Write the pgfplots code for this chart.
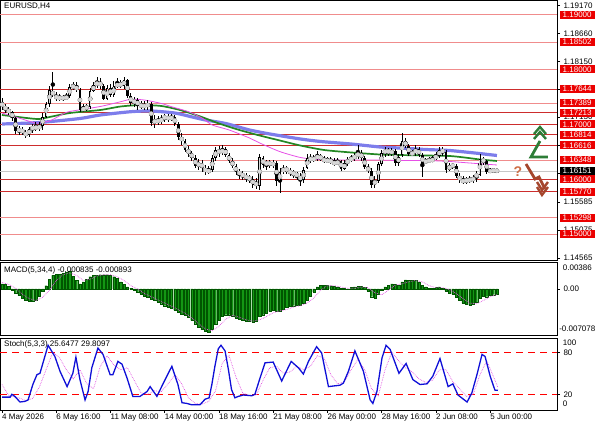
\documentclass[border=0pt]{standalone}
\usepackage{pgfplots}
\pgfplotsset{compat=1.18}
\usepackage{pgfplotstable}
\usepackage{fontspec}
\setmainfont{Liberation Sans}
\newcommand\mt{\fontsize{8}{9.6}\selectfont}
\definecolor{lvlL}{RGB}{240,140,140}
\definecolor{lvlD}{RGB}{205,45,45}
\definecolor{boxred}{RGB}{235,0,0}
\definecolor{maB}{RGB}{125,125,235}
\definecolor{maG}{RGB}{35,135,35}
\definecolor{maM}{RGB}{230,80,230}
\definecolor{hgreen}{RGB}{20,150,20}
\definecolor{hdark}{RGB}{0,85,0}
\definecolor{sigpink}{RGB}{225,80,225}
\definecolor{stblue}{RGB}{15,15,215}
\definecolor{arG}{RGB}{45,125,55}
\definecolor{arB}{RGB}{165,70,45}
\definecolor{qm}{RGB}{205,110,70}
\definecolor{bullfill}{RGB}{215,215,215}

\pgfplotstableread{
i o h l c
0 1.17390 1.17481 1.17262 1.17335
1 1.17335 1.17371 1.17207 1.17262
2 1.17262 1.17317 1.17171 1.17226
3 1.17226 1.17244 1.17062 1.17116
4 1.17116 1.17134 1.16825 1.16879
5 1.16879 1.16970 1.16806 1.16916
6 1.16916 1.16952 1.16806 1.16843
7 1.16843 1.16898 1.16752 1.16806
8 1.16806 1.16952 1.16770 1.16916
9 1.16916 1.17007 1.16843 1.16952
10 1.16952 1.17043 1.16879 1.16934
11 1.16934 1.17043 1.16879 1.16970
12 1.16970 1.17207 1.16898 1.17134
13 1.17134 1.17408 1.17116 1.17371
14 1.17371 1.17699 1.17317 1.17627
15 1.17608 1.17955 1.17499 1.17535
16 1.17535 1.17590 1.17426 1.17462
17 1.17462 1.17554 1.17426 1.17499
18 1.17499 1.17535 1.17426 1.17462
19 1.17462 1.17572 1.17444 1.17517
20 1.17517 1.17736 1.17481 1.17681
21 1.17681 1.17772 1.17627 1.17699
22 1.17699 1.17772 1.17590 1.17627
23 1.17627 1.17663 1.17226 1.17262
24 1.17262 1.17371 1.17226 1.17298
25 1.17298 1.17371 1.17244 1.17317
26 1.17317 1.17663 1.17280 1.17608
27 1.17608 1.17772 1.17590 1.17718
28 1.17718 1.17863 1.17663 1.17772
29 1.17772 1.17845 1.17645 1.17699
30 1.17699 1.17736 1.17444 1.17462
31 1.17462 1.17718 1.17444 1.17663
32 1.17663 1.17736 1.17499 1.17535
33 1.17535 1.17791 1.17499 1.17699
34 1.17699 1.17845 1.17663 1.17736
35 1.17736 1.17809 1.17663 1.17718
36 1.17699 1.17863 1.17645 1.17809
37 1.17809 1.17827 1.17481 1.17517
38 1.17517 1.17572 1.17335 1.17390
39 1.17390 1.17499 1.17317 1.17444
40 1.17444 1.17481 1.17262 1.17335
41 1.17335 1.17426 1.17280 1.17353
42 1.17353 1.17426 1.17262 1.17317
43 1.17317 1.17444 1.17262 1.17390
44 1.17371 1.17408 1.16970 1.17025
45 1.17025 1.17171 1.16934 1.17080
46 1.17080 1.17153 1.16989 1.17043
47 1.17043 1.17171 1.17007 1.17116
48 1.17116 1.17189 1.17043 1.17134
49 1.17134 1.17189 1.17043 1.17098
50 1.17098 1.17189 1.17062 1.17134
51 1.17134 1.17171 1.16970 1.17007
52 1.17007 1.17043 1.16715 1.16770
53 1.16770 1.16843 1.16624 1.16697
54 1.16697 1.16734 1.16497 1.16533
55 1.16533 1.16606 1.16406 1.16478
56 1.16478 1.16515 1.16333 1.16387
57 1.16387 1.16442 1.16205 1.16242
58 1.16242 1.16369 1.16169 1.16296
59 1.16296 1.16351 1.16132 1.16205
60 1.16205 1.16260 1.16078 1.16132
61 1.16132 1.16242 1.16096 1.16169
62 1.16169 1.16442 1.16132 1.16387
63 1.16387 1.16588 1.16333 1.16533
64 1.16533 1.16606 1.16406 1.16478
65 1.16478 1.16624 1.16442 1.16551
66 1.16551 1.16588 1.16406 1.16442
67 1.16442 1.16478 1.16296 1.16333
68 1.16333 1.16387 1.16205 1.16242
69 1.16242 1.16278 1.16078 1.16132
70 1.16132 1.16187 1.16005 1.16096
71 1.16096 1.16150 1.15987 1.16059
72 1.16059 1.16114 1.15950 1.16023
73 1.16023 1.16078 1.15932 1.16005
74 1.16005 1.16059 1.15841 1.15895
75 1.15895 1.16023 1.15823 1.15932
76 1.15877 1.16460 1.15804 1.16406
77 1.16387 1.16424 1.16205 1.16260
78 1.16260 1.16351 1.16169 1.16314
79 1.16314 1.16351 1.16205 1.16260
80 1.16260 1.16351 1.16205 1.16296
81 1.16296 1.16333 1.15877 1.15968
82 1.15968 1.16205 1.15750 1.16132
83 1.16132 1.16260 1.16096 1.16205
84 1.16205 1.16242 1.16096 1.16150
85 1.16150 1.16205 1.16059 1.16114
86 1.16114 1.16169 1.16023 1.16096
87 1.16096 1.16132 1.15987 1.16059
88 1.16059 1.16114 1.15877 1.15987
89 1.15987 1.16223 1.15932 1.16169
90 1.16205 1.16460 1.16187 1.16387
91 1.16387 1.16460 1.16296 1.16351
92 1.16351 1.16442 1.16314 1.16387
93 1.16387 1.16515 1.16333 1.16424
94 1.16424 1.16460 1.16333 1.16369
95 1.16369 1.16424 1.16296 1.16333
96 1.16333 1.16406 1.16296 1.16351
97 1.16351 1.16406 1.16278 1.16314
98 1.16314 1.16387 1.16242 1.16278
99 1.16278 1.16387 1.16260 1.16333
100 1.16333 1.16351 1.16150 1.16187
101 1.16187 1.16351 1.16169 1.16296
102 1.16296 1.16406 1.16242 1.16351
103 1.16351 1.16442 1.16314 1.16387
104 1.16387 1.16478 1.16333 1.16424
105 1.16424 1.16624 1.16369 1.16478
106 1.16478 1.16533 1.16333 1.16387
107 1.16387 1.16424 1.16187 1.16223
108 1.16223 1.16278 1.16114 1.16150
109 1.16150 1.16205 1.15841 1.15895
110 1.15895 1.16059 1.15841 1.15987
111 1.15968 1.16314 1.15932 1.16278
112 1.16278 1.16533 1.16242 1.16478
113 1.16478 1.16588 1.16406 1.16533
114 1.16533 1.16570 1.16424 1.16478
115 1.16478 1.16570 1.16424 1.16515
116 1.16515 1.16551 1.16242 1.16296
117 1.16296 1.16460 1.16242 1.16406
118 1.16442 1.16843 1.16406 1.16697
119 1.16697 1.16752 1.16570 1.16606
120 1.16606 1.16642 1.16424 1.16460
121 1.16460 1.16533 1.16424 1.16478
122 1.16478 1.16624 1.16424 1.16551
123 1.16551 1.16588 1.16406 1.16442
124 1.16442 1.16478 1.16041 1.16278
125 1.16296 1.16387 1.16278 1.16351
126 1.16351 1.16406 1.16296 1.16333
127 1.16333 1.16424 1.16314 1.16369
128 1.16369 1.16497 1.16351 1.16442
129 1.16424 1.16588 1.16387 1.16533
130 1.16533 1.16588 1.16424 1.16497
131 1.16497 1.16533 1.16114 1.16169
132 1.16169 1.16296 1.16150 1.16260
133 1.16260 1.16296 1.16187 1.16242
134 1.16242 1.16278 1.16023 1.16059
135 1.16059 1.16114 1.15932 1.15987
136 1.15987 1.16059 1.15914 1.15950
137 1.15950 1.16041 1.15914 1.16005
138 1.16005 1.16059 1.15932 1.15968
139 1.15968 1.16078 1.15932 1.16041
140 1.16041 1.16150 1.15950 1.16096
141 1.16078 1.16460 1.16059 1.16369
142 1.16369 1.16406 1.16260 1.16314
143 1.16333 1.16351 1.16096 1.16132
144 1.16132 1.16205 1.16114 1.16169
145 1.16169 1.16187 1.16132 1.16150
146 1.16160 1.16180 1.16130 1.16151
}\candles

\begin{document}
\begin{tikzpicture}
\path[use as bounding box] (0,0) rectangle (596pt,425pt);
\pgfplotsset{mt/.style={scale only axis, width=557pt, xmin=-0.59, xmax=163.72,
  axis line style={line width=0.7pt}, clip mode=individual,
  /pgf/number format/assume math mode=true, tick label style={font=\mt},
  tick align=outside, major tick length=3pt, ytick pos=right, yticklabel pos=right,
  scaled y ticks=false, tick style={black, line width=0.5pt}}}
\tikzset{lbl/.style={fill=boxred, text=white, font=\mt, inner sep=0pt, minimum width=35pt, minimum height=8pt, anchor=west},
  plain/.style={font=\mt, inner sep=0pt, anchor=west}}

% ---------------- main price panel ----------------
\begin{axis}[mt, at={(0pt,165pt)}, anchor=south west, height=260pt,
  ymin=1.145286, ymax=1.192666, xtick=\empty,
  ytick={1.14565,1.15075,1.15585,1.16110,1.16620,1.17130,1.17640,1.18150,1.18660,1.19170},
  yticklabels={1.14565,1.15075,1.15585,,,1.17130,,1.18150,1.18660,1.19170}]
% level lines
\addplot[lvlL, line width=0.8pt] coordinates {(-0.59,1.19000) (163.72,1.19000)};
\addplot[lvlL, line width=0.8pt] coordinates {(-0.59,1.18502) (163.72,1.18502)};
\addplot[lvlL, line width=0.8pt] coordinates {(-0.59,1.18000) (163.72,1.18000)};
\addplot[lvlD, line width=0.8pt] coordinates {(-0.59,1.17644) (163.72,1.17644)};
\addplot[lvlL, line width=0.8pt] coordinates {(-0.59,1.17389) (163.72,1.17389)};
\addplot[lvlD, line width=0.8pt] coordinates {(-0.59,1.17213) (163.72,1.17213)};
\addplot[lvlD, line width=0.8pt] coordinates {(-0.59,1.17000) (163.72,1.17000)};
\addplot[lvlD, line width=0.8pt] coordinates {(-0.59,1.16814) (163.72,1.16814)};
\addplot[lvlD, line width=0.8pt] coordinates {(-0.59,1.16616) (163.72,1.16616)};
\addplot[lvlL, line width=0.8pt] coordinates {(-0.59,1.16348) (163.72,1.16348)};
\addplot[black!22, line width=0.8pt] coordinates {(-0.59,1.16151) (163.72,1.16151)};
\addplot[lvlD, line width=0.8pt] coordinates {(-0.59,1.16000) (163.72,1.16000)};
\addplot[lvlD, line width=0.8pt] coordinates {(-0.59,1.15770) (163.72,1.15770)};
\addplot[lvlL, line width=0.8pt] coordinates {(-0.59,1.15298) (163.72,1.15298)};
\addplot[lvlL, line width=0.8pt] coordinates {(-0.59,1.15000) (163.72,1.15000)};
% moving averages
\addplot[maB, line width=3.2pt, smooth, tension=0.4] coordinates {(0,1.17007) (11,1.17034) (23,1.17107) (29,1.17171) (38,1.17231) (44,1.17244) (51,1.17207) (55.5,1.17144) (60,1.17080) (66,1.17016) (73,1.16898) (79,1.16825) (88,1.16734) (94,1.16688) (103,1.16642) (111.5,1.16588) (117,1.16570) (125,1.16542) (132,1.16524) (139.5,1.16478) (146,1.16433)};
\addplot[maG, line width=1.7pt, smooth, tension=0.4] coordinates {(0,1.17171) (8,1.17111) (11,1.17098) (14,1.17134) (20,1.17207) (29,1.17262) (35,1.17326) (41,1.17353) (47,1.17335) (52.5,1.17262) (58.5,1.17144) (64,1.17016) (70,1.16898) (76,1.16797) (82,1.16706) (88,1.16615) (95,1.16533) (103,1.16488) (111.5,1.16451) (117,1.16442) (125,1.16433) (132,1.16424) (136.5,1.16396) (141,1.16360) (146,1.16333)};
\addplot[maM, line width=0.8pt, smooth, tension=0.4] coordinates {(0,1.17207) (5,1.17116) (10,1.17025) (14,1.17062) (18,1.17189) (20,1.17235) (29,1.17326) (35,1.17413) (38,1.17457) (42,1.17444) (47,1.17381) (50,1.17322) (55,1.17231) (59,1.17116) (62,1.16989) (67,1.16898) (73,1.16752) (76,1.16661) (82,1.16503) (88,1.16397) (93,1.16360) (100,1.16351) (110,1.16351) (117,1.16342) (125,1.16342) (132,1.16324) (138,1.16296) (146,1.16260)};
% candles: wicks, bodies, hollow bull bodies
\addplot[black, only marks, mark=none, error bars/.cd, y dir=both, y explicit, error mark=none,
  error bar style={line width=0.8pt, black}]
  table[x=i, y expr={(\thisrow{h}+\thisrow{l})/2}, y error expr={(\thisrow{h}-\thisrow{l})/2}] {\candles};
\addplot[black, only marks, mark=none, error bars/.cd, y dir=both, y explicit, error mark=none,
  error bar style={line width=2.7pt, black}]
  table[x=i, y expr={(\thisrow{o}+\thisrow{c})/2}, y error expr={max(abs(\thisrow{o}-\thisrow{c})/2,0.00005)}] {\candles};
\addplot[bullfill, only marks, mark=none, error bars/.cd, y dir=both, y explicit, error mark=none,
  error bar style={line width=1.0pt, bullfill}]
  table[x=i, y expr={(\thisrow{o}+\thisrow{c})/2}, y error expr={max((\thisrow{c}-\thisrow{o})/2-0.00012,0)}] {\candles};
% forecast arrows
\draw[arG, line width=2.8pt, line join=miter] (axis cs:161.06,1.16406) -- (axis cs:156.05,1.16406) -- (axis cs:158.70,1.16697);
\draw[arG, line width=2.4pt] (axis cs:156.93,1.16734) -- (axis cs:158.70,1.16861) -- (axis cs:160.47,1.16734);
\draw[arG, line width=2.4pt] (axis cs:156.93,1.16825) -- (axis cs:158.70,1.16952) -- (axis cs:160.47,1.16825);
\draw[arB, line width=2.8pt, line join=miter] (axis cs:154.57,1.16278) -- (axis cs:157.23,1.16005) -- (axis cs:158.41,1.16041) -- (axis cs:160.18,1.15823);
\draw[arB, line width=2.4pt] (axis cs:157.82,1.15950) -- (axis cs:159.29,1.15804) -- (axis cs:161.06,1.15950);
\draw[arB, line width=2.4pt] (axis cs:157.82,1.15859) -- (axis cs:159.29,1.15713) -- (axis cs:161.06,1.15859);
\node[text=qm, font=\fontsize{14}{14}\selectfont\bfseries, inner sep=0pt] at (axis cs:152.2,1.16132) {?};
\node[anchor=north west, font=\mt, inner sep=0pt] at ([xshift=4pt,yshift=-3pt]rel axis cs:0,1) {EURUSD,H4};
% label anchors
\coordinate (b1) at (axis cs:164.45,1.19000);
\coordinate (b2) at (axis cs:164.45,1.18502);
\coordinate (b3) at (axis cs:164.45,1.18000);
\coordinate (b4) at (axis cs:164.45,1.17644);
\coordinate (b5) at (axis cs:164.45,1.17389);
\coordinate (b6) at (axis cs:164.45,1.17213);
\coordinate (b7) at (axis cs:164.45,1.17000);
\coordinate (b8) at (axis cs:164.45,1.16814);
\coordinate (b9) at (axis cs:164.45,1.16616);
\coordinate (b10) at (axis cs:164.45,1.16348);
\coordinate (bc) at (axis cs:164.45,1.16151);
\coordinate (b11) at (axis cs:164.45,1.16000);
\coordinate (b12) at (axis cs:164.45,1.15770);
\coordinate (b13) at (axis cs:164.45,1.15298);
\coordinate (b14) at (axis cs:164.45,1.15000);
\end{axis}
\node[lbl] at (b1) {1.19000};
\node[lbl] at (b2) {1.18502};
\node[lbl] at (b3) {1.18000};
\node[lbl] at (b4) {1.17644};
\node[lbl] at (b5) {1.17389};
\node[lbl] at (b6) {1.17213};
\node[lbl] at (b7) {1.17000};
\node[lbl] at (b8) {1.16814};
\node[lbl] at (b9) {1.16616};
\node[lbl] at (b10) {1.16348};
\node[lbl, fill=black] at (bc) {1.16151};
\node[lbl] at (b11) {1.16000};
\node[lbl] at (b12) {1.15770};
\node[lbl] at (b13) {1.15298};
\node[lbl] at (b14) {1.15000};

% ---------------- MACD panel ----------------
\begin{axis}[mt, at={(0pt,90pt)}, anchor=south west, height=72.5pt,
  ymin=-0.00715, ymax=0.0041, xtick=\empty, ytick={0}, yticklabels={0.00}]
\addplot[ybar, bar width=2.3pt, fill=hgreen, draw=hdark, line width=0.3pt] coordinates {
(0,0.0008) (1,0.0007) (2,0.0004) (3,-0.0002) (4,-0.0006) (5,-0.0010) (6,-0.0015) (7,-0.0018) (8,-0.0019) (9,-0.0019)
(10,-0.0017) (11,-0.0011) (12,-0.0004) (13,0.0005) (14,0.0015) (15,0.0021) (16,0.0023) (17,0.0023) (18,0.0024) (19,0.0026)
(20,0.0028) (21,0.0020) (22,0.0013) (23,0.0008) (24,0.0011) (25,0.0015) (26,0.0019) (27,0.0021) (28,0.0021) (29,0.0022)
(30,0.0022) (31,0.0022) (32,0.0021) (33,0.0019) (34,0.0016) (35,0.0011) (36,0.0007) (37,0.0003) (38,0.0001) (39,-0.0002)
(40,-0.0005) (41,-0.0008) (42,-0.0011) (43,-0.0013) (44,-0.0016) (45,-0.0018) (46,-0.0020) (47,-0.0023) (48,-0.0026) (49,-0.0028)
(50,-0.0030) (51,-0.0033) (52,-0.0036) (53,-0.0039) (54,-0.0041) (55,-0.0044) (56,-0.0049) (57,-0.0054) (58,-0.0059) (59,-0.0063)
(60,-0.0066) (61,-0.0067) (62,-0.0062) (63,-0.0055) (64,-0.0048) (65,-0.0043) (66,-0.0040) (67,-0.0040) (68,-0.0042) (69,-0.0045)
(70,-0.0047) (71,-0.0049) (72,-0.0050) (73,-0.0050) (74,-0.0051) (75,-0.0050) (76,-0.0043) (77,-0.0040) (78,-0.0038) (79,-0.0035)
(80,-0.0033) (81,-0.0035) (82,-0.0034) (83,-0.0031) (84,-0.0029) (85,-0.0027) (86,-0.0026) (87,-0.0025) (88,-0.0025) (89,-0.0022)
(90,-0.0017) (91,-0.0011) (92,-0.0005) (93,0.0003) (94,0.0006) (95,0.0006) (96,0.0006) (97,0.0005) (98,0.0004) (99,0.0003)
(100,0.0001) (101,0.0001) (102,-0.0001) (103,0.0002) (104,0.0003) (105,0.0004) (106,0.0004) (107,0.0002) (108,-0.0003) (109,-0.0012)
(110,-0.0014) (111,-0.0008) (112,-0.0002) (113,0.0003) (114,0.0006) (115,0.0008) (116,0.0007) (117,0.0006) (118,0.0011) (119,0.0014)
(120,0.0013) (121,0.0013) (122,0.0013) (123,0.0011) (124,0.0006) (125,0.0003) (126,0.0001) (127,0.0001) (128,0.0002) (129,0.0003)
(130,0.0001) (131,-0.0003) (132,-0.0006) (133,-0.0008) (134,-0.0013) (135,-0.0018) (136,-0.0022) (137,-0.0024) (138,-0.0025) (139,-0.0023)
(140,-0.0021) (141,-0.0014) (142,-0.0011) (143,-0.0012) (144,-0.0010) (145,-0.0009) (146,-0.000835)};
\addplot[sigpink, line width=0.7pt, densely dotted] coordinates {
(0,0.0010) (2,0.0007) (4,0.0001) (6,-0.0008) (8,-0.0015) (10,-0.0018) (12,-0.0013) (14,-0.0002) (16,0.0013) (18,0.0022)
(20,0.0025) (22,0.0021) (24,0.0013) (26,0.0015) (28,0.0020) (30,0.0022) (32,0.0022) (34,0.0019) (36,0.0013) (38,0.0005)
(40,0.0000) (42,-0.0007) (44,-0.0012) (46,-0.0017) (48,-0.0022) (50,-0.0027) (52,-0.0032) (54,-0.0038) (56,-0.0045) (58,-0.0054)
(60,-0.0062) (62,-0.0065) (64,-0.0058) (66,-0.0047) (68,-0.0041) (70,-0.0044) (72,-0.0048) (74,-0.0050) (76,-0.0048) (78,-0.0043)
(80,-0.0037) (82,-0.0034) (84,-0.0032) (86,-0.0028) (88,-0.0026) (90,-0.0022) (92,-0.0014) (94,-0.0002) (96,0.0005) (98,0.0005)
(100,0.0003) (102,0.0001) (104,0.0001) (106,0.0003) (108,0.0002) (110,-0.0006) (112,-0.0009) (114,-0.0002) (116,0.0006) (118,0.0008)
(120,0.0011) (122,0.0013) (124,0.0011) (126,0.0005) (128,0.0002) (130,0.0002) (132,-0.0001) (134,-0.0007) (136,-0.0015) (138,-0.0022)
(140,-0.0023) (142,-0.0018) (144,-0.0012) (146,-0.000893)};
\node[anchor=north west, font=\mt, inner sep=0pt] at ([xshift=4pt,yshift=-4pt]rel axis cs:0,1) {MACD(5,34,4) -0.000835 -0.000893};
\coordinate (mpos) at (axis cs:165.4,0.00325);
\coordinate (mneg) at (axis cs:165.4,-0.00622);
\end{axis}
\node[plain] at (mpos) {0.00386};
\node[font=\mt, inner sep=0pt, anchor=east] at (mneg -| 595.5pt,0) {-0.007078};

% ---------------- Stochastic panel ----------------
\begin{axis}[mt, at={(0pt,15pt)}, anchor=south west, height=72pt,
  ymin=-2.4, ymax=100.4, ytick={20,80}, xtick pos=bottom,
  xtick={0,16,...,144},
  xticklabels={4 May 2026, 6 May 16:00, 11 May 08:00, 14 May 00:00, 18 May 16:00, 21 May 08:00, 26 May 00:00, 28 May 16:00, 2 Jun 08:00, 5 Jun 00:00},
  xticklabel style={anchor=north west, inner xsep=0pt, inner ysep=1pt}]
\addplot[red, line width=0.8pt, dash pattern=on 7pt off 5pt] coordinates {(-0.59,80) (163.72,80)};
\addplot[red, line width=0.8pt, dash pattern=on 7pt off 5pt] coordinates {(-0.59,20) (163.72,20)};
\addplot[sigpink, line width=0.7pt, densely dotted] coordinates {
(0,34) (2,18) (5,15) (7,11) (9,14) (11,30) (13,55) (15,80) (17,72) (19,55) (21,42) (23,55) (25,35) (27,28) (29,60) (31,75)
(33,62) (35,55) (37,58) (39,40) (41,22) (43,20) (45,25) (47,24) (49,35) (51,48) (53,35) (55,15) (57,7) (59,6) (61,10) (63,25)
(65,65) (67,75) (69,45) (71,22) (73,18) (75,19) (77,40) (79,58) (81,60) (83,50) (85,52) (87,60) (89,55) (91,60) (93,75) (95,72)
(97,48) (99,35) (101,38) (103,55) (105,70) (107,55) (109,28) (111,18) (113,55) (115,80) (117,68) (119,58) (121,52) (123,42)
(125,37) (127,40) (129,55) (131,55) (133,38) (135,28) (137,17) (139,20) (141,48) (143,68) (145,45) (146.3,29.81)};
\addplot[stblue, line width=1.3pt] coordinates {
(0,16) (2.4,16) (2.9,20) (3.8,17) (5.3,9) (6.8,10) (7.7,12) (9.1,34) (10.3,48) (11.2,50) (13.6,90) (15.6,74) (17.1,53)
(19.2,31) (20.9,50) (21.8,73) (23,41) (24.5,12) (25.4,24) (26.5,58) (28.3,86) (29.8,77) (31.9,48) (32.7,48) (34.2,67)
(35.4,63) (36.9,43) (38.6,17) (40.7,17) (42.8,24) (43.7,31) (45.7,17) (47.5,35) (50.1,60) (51.9,34) (53.1,8) (54.5,7)
(56,5) (58.4,5) (59.9,13) (61.1,15) (61.9,34) (62.8,60) (63.8,85) (64.6,90) (65.8,82) (66.8,55) (67.7,27) (68.7,15)
(69.7,17) (71.2,19) (73.7,18) (74.6,20) (76.1,43) (77.6,65) (80,66) (82.5,39) (85.3,67) (87.4,58) (88.9,49) (90.4,67)
(92.8,88) (94.3,79) (96.3,31) (99.7,33) (100.7,36) (102.2,53) (104.1,82) (106.6,53) (108.6,12) (109.4,7) (110.6,24)
(112.1,72) (113.3,90) (114.5,84) (117.1,50) (119.2,64) (121.2,41) (123.3,34) (125.4,35) (127.1,46) (129.2,71) (131.6,31)
(133,35) (134.5,19) (137.2,9) (138.6,22) (140.1,48) (141.6,77) (142.5,74) (144,46) (145.4,26) (146.3,25.65)};
\node[anchor=north west, font=\mt, inner sep=0pt] at ([xshift=4pt,yshift=-3pt]rel axis cs:0,1) {Stoch(5,3,3) 25.6477 29.8097};
\coordinate (s100) at (axis cs:165.4,93);
\coordinate (s0) at (axis cs:165.4,7);
\end{axis}
\node[plain] at (s100) {100};
\node[plain] at (s0) {0};
\end{tikzpicture}
\end{document}
